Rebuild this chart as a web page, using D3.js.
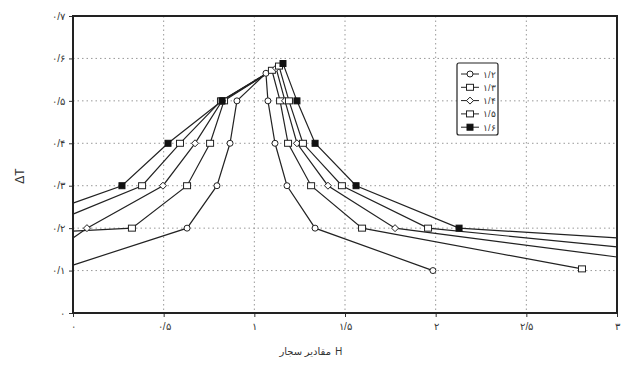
<!DOCTYPE html>
<html><head><meta charset="utf-8">
<script src="https://cdn.jsdelivr.net/npm/d3@7"></script>
<style>body{margin:0;background:#fff}svg{display:block}#wrap{position:relative;width:621px;height:365px}
.tt{position:absolute;top:345px;font:10px 'Noto Sans','DejaVu Sans',sans-serif;color:#333;line-height:12px;white-space:nowrap}
#xtw{right:290px;text-align:right}#xth{left:335px}</style>
</head><body><div id="wrap"><svg id="c" width="621" height="365"></svg><div id="xtw" class="tt"></div><div id="xth" class="tt"></div></div>
<script>
const seriesNames = ["۱/۲","۱/۳","۱/۴","۱/۵","۱/۶"];
const seriesMarkers = ["circle","square","diamond","square","filled"];
const s1 = [[0,0.113],[0.629,0.2],[0.794,0.3],[0.866,0.4],[0.904,0.5],[1.064,0.565],[1.075,0.5],[1.114,0.4],[1.18,0.3],[1.335,0.2],[1.985,0.1]];
const s2 = [[0,0.193],[0.325,0.2],[0.629,0.3],[0.756,0.4],[0.833,0.5],[1.097,0.572],[1.142,0.5],[1.186,0.4],[1.313,0.3],[1.594,0.2],[2.807,0.104]];
const s3 = [[0,0.177],[0.077,0.2],[0.496,0.3],[0.673,0.4],[0.822,0.5],[1.12,0.577],[1.169,0.5],[1.235,0.4],[1.406,0.3],[1.776,0.2],[3.0,0.132]];
const s4 = [[0,0.233],[0.381,0.3],[0.59,0.4],[0.816,0.5],[1.136,0.582],[1.191,0.5],[1.268,0.4],[1.483,0.3],[1.958,0.2],[3.0,0.156]];
const s5 = [[0,0.259],[0.27,0.3],[0.524,0.4],[0.822,0.5],[1.158,0.588],[1.235,0.5],[1.335,0.4],[1.561,0.3],[2.129,0.2],[3.0,0.177]];
const xTicks = [0,0.5,1,1.5,2,2.5,3];
const xTickLabels = ["۰","۰/۵","۱","۱/۵","۲","۲/۵","۳"];
const yTicks = [0,0.1,0.2,0.3,0.4,0.5,0.6,0.7];
const yTickLabels = ["۰","۰/۱","۰/۲","۰/۳","۰/۴","۰/۵","۰/۶","۰/۷"];
const xTitleWords = "مقادیر سجار";
const xTitleSymbol = "H";
const yTitle = "ΔT";

const allSeries = [s1,s2,s3,s4,s5];
const svg = d3.select("#c");
const L=73,R=617,T=16,B=313;
const x = d3.scaleLinear().domain([0,3]).range([L,R]);
const y = d3.scaleLinear().domain([0,0.7]).range([B,T]);
const font = "'Liberation Sans', Arial, sans-serif";
const ink = "#333";

// grid
svg.append("g").selectAll("line").data(xTicks.slice(1,-1)).join("line")
  .attr("x1",d=>x(d)).attr("x2",d=>x(d)).attr("y1",T).attr("y2",B)
  .attr("stroke","#999").attr("stroke-dasharray","1.5,3").attr("stroke-width",1);
svg.append("g").selectAll("line").data(yTicks.slice(1,-1)).join("line")
  .attr("x1",L).attr("x2",R).attr("y1",d=>y(d)).attr("y2",d=>y(d))
  .attr("stroke","#999").attr("stroke-dasharray","1.5,3").attr("stroke-width",1);

// axes
const xAxis = d3.axisBottom(x).tickValues(xTicks).tickFormat((d,i)=>xTickLabels[i]).tickSize(4).tickPadding(6);
const gx = svg.append("g").attr("transform",`translate(0,${B})`).call(xAxis);
const yAxis = d3.axisLeft(y).tickValues(yTicks).tickFormat((d,i)=>yTickLabels[i]).tickSize(4).tickPadding(4);
const gy = svg.append("g").attr("transform",`translate(${L},0)`).call(yAxis);
[gx,gy].forEach(g=>{
  g.select(".domain").remove();
  g.selectAll("line").attr("stroke",ink);
  g.selectAll("text").attr("font-family",font).attr("font-size",10).attr("fill",ink);
});

// frame
svg.append("rect").attr("x",L).attr("y",T).attr("width",R-L).attr("height",B-T)
  .attr("fill","none").attr("stroke","#222").attr("stroke-width",2);

// lines
const line = d3.line().x(d=>x(d[0])).y(d=>y(d[1]));
const plot = svg.append("g");
allSeries.forEach((s,i)=>{
  plot.append("path").datum(s).attr("d",line).attr("fill","none").attr("stroke","#222").attr("stroke-width",1.2);
});
function marker(g,type,cx,cy){
  if(type==="circle") g.append("circle").attr("cx",cx).attr("cy",cy).attr("r",3).attr("fill","#fff").attr("stroke","#222");
  else if(type==="square") g.append("rect").attr("x",cx-3.5).attr("y",cy-3).attr("width",7).attr("height",6).attr("fill","#fff").attr("stroke","#222");
  else if(type==="diamond") g.append("path").attr("d",`M${cx},${cy-3.5}L${cx+3.5},${cy}L${cx},${cy+3.5}L${cx-3.5},${cy}Z`).attr("fill","#fff").attr("stroke","#222");
  else g.append("rect").attr("x",cx-3).attr("y",cy-3).attr("width",6).attr("height",6).attr("fill","#111").attr("stroke","#111");
}
allSeries.forEach((s,i)=>{
  s.forEach(d=>{
    if(d[0]===0 || d[0]===3) return;
    marker(plot,seriesMarkers[i],x(d[0]),y(d[1]));
  });
});

// legend
const lg = svg.append("g");
lg.append("rect").attr("x",457).attr("y",63).attr("width",41).attr("height",72).attr("rx",2)
  .attr("fill","#fff").attr("stroke","#222").attr("stroke-width",1.2);
seriesNames.forEach((n,i)=>{
  const ly = 74+i*13.3;
  lg.append("line").attr("x1",461).attr("x2",479).attr("y1",ly).attr("y2",ly).attr("stroke","#222");
  marker(lg,seriesMarkers[i],470,ly);
  lg.append("text").attr("x",483).attr("y",ly+3.5).attr("font-family",font).attr("font-size",9).attr("fill",ink).text(n);
});

// titles (two separate boxes so the H stays on the right)
d3.select("#xtw").text(xTitleWords);
d3.select("#xth").text(xTitleSymbol);
svg.append("text").attr("transform","translate(24,176) rotate(-90)").attr("text-anchor","middle")
  .attr("font-family",font).attr("font-size",12).attr("fill",ink).text(yTitle);
</script></body></html>
